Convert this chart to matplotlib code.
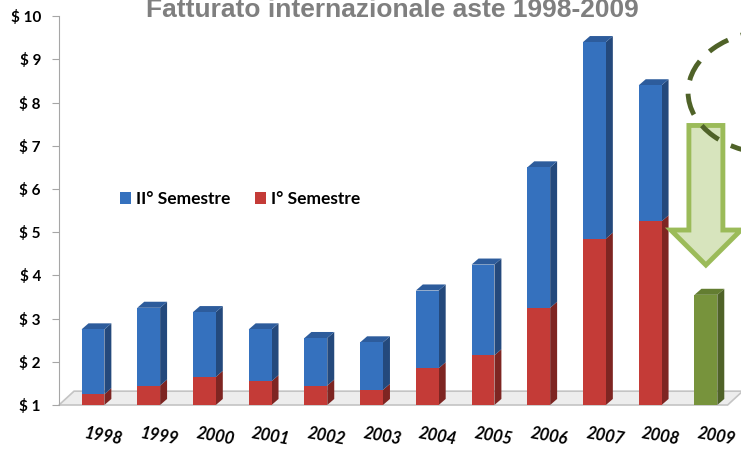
import matplotlib
matplotlib.use("Agg")
import matplotlib.pyplot as plt
import matplotlib.transforms as mtransforms
from matplotlib.patches import Polygon, Ellipse

# values (milioni $), axis starts at $1
years = ["1998", "1999", "2000", "2001", "2002", "2003",
         "2004", "2005", "2006", "2007", "2008", "2009"]
sem1 = [1.25, 1.45, 1.65, 1.55, 1.45, 1.35, 1.85, 2.15, 3.25, 4.85, 5.25, 3.55]
sem2 = [1.50, 1.80, 1.50, 1.20, 1.10, 1.10, 1.80, 2.10, 3.25, 4.55, 3.15, 0.0]
y_ticks = [1, 2, 3, 4, 5, 6, 7, 8, 9, 10]
y_labels = ["$ 1", "$ 2", "$ 3", "$ 4", "$ 5", "$ 6", "$ 7", "$ 8", "$ 9", "$ 10"]

blue = ("#3571BE", "#24497C", "#2D5C9C")
red = ("#C43B37", "#7E2522", "#A02F2C")
green = ("#77933C", "#4F6228", "#637D31")

fig = plt.figure(figsize=(7.41, 4.49), dpi=100)
ax = fig.add_axes([0.0796, 0.098, 0.9204, 0.866])
ax.set_xlim(-0.61, 11.63)
ax.set_ylim(1, 10)

x = list(range(len(years)))
w = 0.41
dx, dy = 0.125, 0.14

# floor of the 3d chart
fdx, fdy = 0.27, 0.32
floor = Polygon([(-0.61, 1.0), (11.39, 1.0), (11.39 + fdx, 1.0 + fdy), (-0.61 + fdx, 1.0 + fdy)],
                closed=True, facecolor="#EDEDED", edgecolor="#C4C4C4", lw=1.2, zorder=1,
                clip_on=False)
ax.add_patch(floor)


def bar3d(xc, bottom, height, cols, top_face=True):
    b = max(bottom, 1.0)
    t = bottom + height
    if t <= b:
        return
    ax.bar(xc, t - b, w, bottom=b, color=cols[0], zorder=3, linewidth=0)
    r = xc + w / 2
    l = xc - w / 2
    ax.add_patch(Polygon([(r, b), (r + dx, b + dy), (r + dx, t + dy), (r, t)],
                         closed=True, facecolor=cols[1], lw=0, zorder=2))
    if top_face:
        ax.add_patch(Polygon([(l, t), (l + dx, t + dy), (r + dx, t + dy), (r, t)],
                             closed=True, facecolor=cols[2], lw=0, zorder=2))


for i in x:
    if years[i] == "2009":
        bar3d(i, 0, sem1[i], green)
        continue
    bar3d(i, 0, sem1[i], red, top_face=False)
    bar3d(i, sem1[i], sem2[i], blue)

# legend
hb = ax.bar([0], [0], color=blue[0], label="II° Semestre")
hr = ax.bar([0], [0], color=red[0], label="I° Semestre")
ax.legend(handles=[hb, hr], loc="center left", bbox_to_anchor=(0.066, 0.53), ncol=2,
          frameon=False, handlelength=0.65, handleheight=0.65, handletextpad=0.3,
          columnspacing=1.4, prop={"family": "Lato", "weight": "bold", "size": 12.5})

# arrow and dashed ellipse over 2009
ax.add_patch(Polygon([(10.695, 7.47), (11.305, 7.47), (11.305, 5.05), (11.63, 5.05),
                      (11.0, 4.24), (10.37, 5.05), (10.695, 5.05)],
                     closed=True, facecolor="#D7E4BD", edgecolor="#9BBB59", lw=3.5,
                     zorder=4, clip_on=False))
ax.add_patch(Ellipse((12.24, 8.24), 3.12, 2.87, fill=False, edgecolor="#4F6228", lw=3.5,
                     linestyle=(0, (4.5, 2.8)), zorder=5, clip_on=True))

# axes styling
for s in ["top", "right", "bottom"]:
    ax.spines[s].set_visible(False)
ax.spines["left"].set_color("#A6A6A6")
ax.set_yticks(y_ticks)
ax.set_yticklabels(y_labels, fontfamily="Lato", fontweight="bold", fontsize=11)
ax.tick_params(axis="y", length=5, color="#A6A6A6", pad=8)

ax.set_xticks(x)
ax.set_xticklabels(years, fontfamily="Lato", fontweight="bold", style="italic",
                   fontsize=12, rotation=-10, rotation_mode="anchor", ha="center")
ax.tick_params(axis="x", length=0, pad=17)
offset = mtransforms.ScaledTranslation(12 / 100, 0, fig.dpi_scale_trans)
for lab in ax.get_xticklabels():
    lab.set_transform(lab.get_transform() + offset)

fig.text(0.529, 0.962, "Fatturato internazionale aste 1998-2009", ha="center",
         va="baseline", fontfamily="Liberation Sans", fontweight="bold", fontsize=19,
         color="#7F7F7F")

fig.savefig("out.png", dpi=100)
